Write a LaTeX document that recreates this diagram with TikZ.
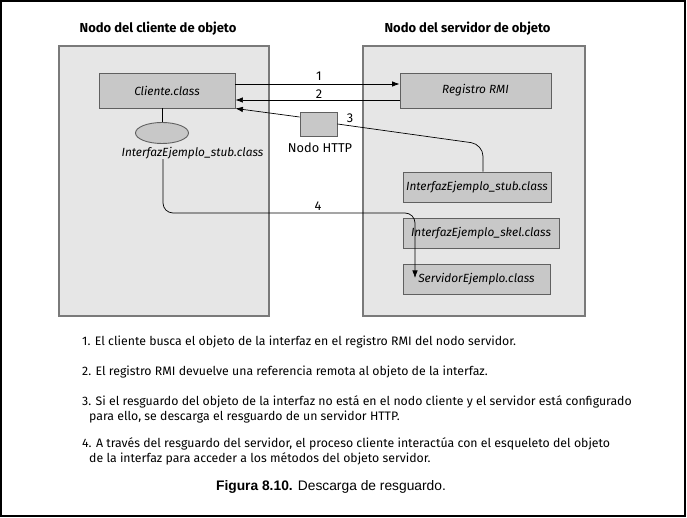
\documentclass[tikz,border=0pt]{standalone}
\usepackage{fontspec}
\setmainfont{Fira Sans}
\newfontfamily\capfont{Liberation Sans}
\usetikzlibrary{arrows.meta,calc,shapes.geometric}
\definecolor{outerfill}{HTML}{E6E6E6}
\definecolor{innerfill}{HTML}{C8C8C8}
\definecolor{boxline}{HTML}{7A7A7A}
\definecolor{innerline}{HTML}{606060}
\begin{document}
\begin{tikzpicture}[x=1pt,y=-1pt,
  outerbox/.style={draw=boxline,fill=outerfill,line width=1.1pt,inner sep=0pt},
  innerbox/.style={draw=innerline,fill=innerfill,line width=0.9pt,inner sep=0pt},
  lbl/.style={font=\fontsize{11.85}{13}\selectfont\itshape},
  ttl/.style={font=\fontsize{13}{15}\selectfont\bfseries, inner sep=0pt},
  num/.style={font=\fontsize{12.8}{14}\selectfont, inner sep=0pt},
  body/.style={font=\fontsize{12.3}{14}\selectfont, anchor=base west, inner sep=0pt},
  arr/.style={-{Latex[length=7.5pt,width=5.5pt]}, line width=0.7pt},
  conn/.style={line width=0.7pt},
]
\useasboundingbox (0,0) rectangle (687,518);
\draw[line width=1.6pt] (0.8,0.8) rectangle (685.2,516.2);

% outer nodes
\node[outerbox, minimum width=210pt, minimum height=270pt] (lnode) at (164,181) {};
\node[outerbox, minimum width=222pt, minimum height=270pt] (rnode) at (474,181) {};
\node[ttl] (lttl) at (158,29) {Nodo del cliente de objeto};
\node[ttl] (rttl) at (467.5,29) {Nodo del servidor de objeto};

% inner boxes
\node[innerbox, lbl, minimum width=136pt, minimum height=35pt] (cli) at (167,90.5) {Cliente.class};
\node[innerbox, lbl, minimum width=151pt, minimum height=35pt] (reg) at (475.5,90.5) {Registro RMI};
\node[innerbox, minimum width=37pt, minimum height=24pt] (http) at (318.5,124) {};
\node[num] (hlbl) at (320,148) {Nodo HTTP};
\node[innerbox, ellipse, minimum width=53pt, minimum height=21pt] (ell) at (162,133) {};
\node[lbl, inner sep=0pt] (stubc) at (192.5,153) {InterfazEjemplo\_stub.class};
\node[innerbox, lbl, minimum width=148pt, minimum height=30pt] (stubs) at (477,187) {InterfazEjemplo\_stub.class};
\node[innerbox, lbl, minimum width=156pt, minimum height=30pt] (skel) at (481,233) {InterfazEjemplo\_skel.class};
\node[innerbox, lbl, minimum width=147pt, minimum height=30pt] (serv) at (476.5,279) {ServidorEjemplo.class};

% connectors
\draw[conn] (ell.north) -- (ell.north |- cli.south);
\draw[arr] ([yshift=6.5pt]cli.east) -- ([yshift=6.5pt]reg.west);
\draw[arr] ([yshift=-9.5pt]reg.west) -- ([yshift=-9.5pt]cli.east);
\draw[arr] ([yshift=7pt]http.west) -- (cli.south east);
\coordinate (c3) at (483,144.3);
\draw[conn, rounded corners=12pt] (http.east) -- (c3) -- (c3 |- stubs.north);
\coordinate (c4a) at (163,213);
\coordinate (c4b) at (415,213);
\coordinate (c4t) at (415,278);
\draw[arr, rounded corners=10pt] (stubc.south -| c4a) -- (c4a) -- (c4b) -- (c4t);

\node[num] (n1) at (319,76) {1};
\node[num] (n2) at (319,94) {2};
\node[num] (n3) at (350,118) {3};
\node[num] (n4) at (318,206) {4};

% text
\node[body] (t1) at (82,345) {1. El cliente busca el objeto de la interfaz en el registro RMI del nodo servidor.};
\node[body] (t2) at (82,375) {2. El registro RMI devuelve una referencia remota al objeto de la interfaz.};
\begin{scope}
\clip (0,390) rectangle (630.5,412);
\node[body] (t3a) at (82,405) {3. Si el resguardo del objeto de la interfaz no está en el nodo cliente y el servidor está configurado};
\end{scope}
\node[body] (t3b) at (89,420) {para ello, se descarga el resguardo de un servidor HTTP.};
\node[body] (t4a) at (82,447) {4. A través del resguardo del servidor, el proceso cliente interactúa con el esqueleto del objeto};
\node[body] (t4b) at (89,462) {de la interfaz para acceder a los métodos del objeto servidor.};
\node[font=\capfont\fontsize{13.8}{16}\selectfont, inner sep=0pt] (cap) at (331,487) {\textbf{Figura 8.10.} Descarga de resguardo.};
\end{tikzpicture}
\end{document}
